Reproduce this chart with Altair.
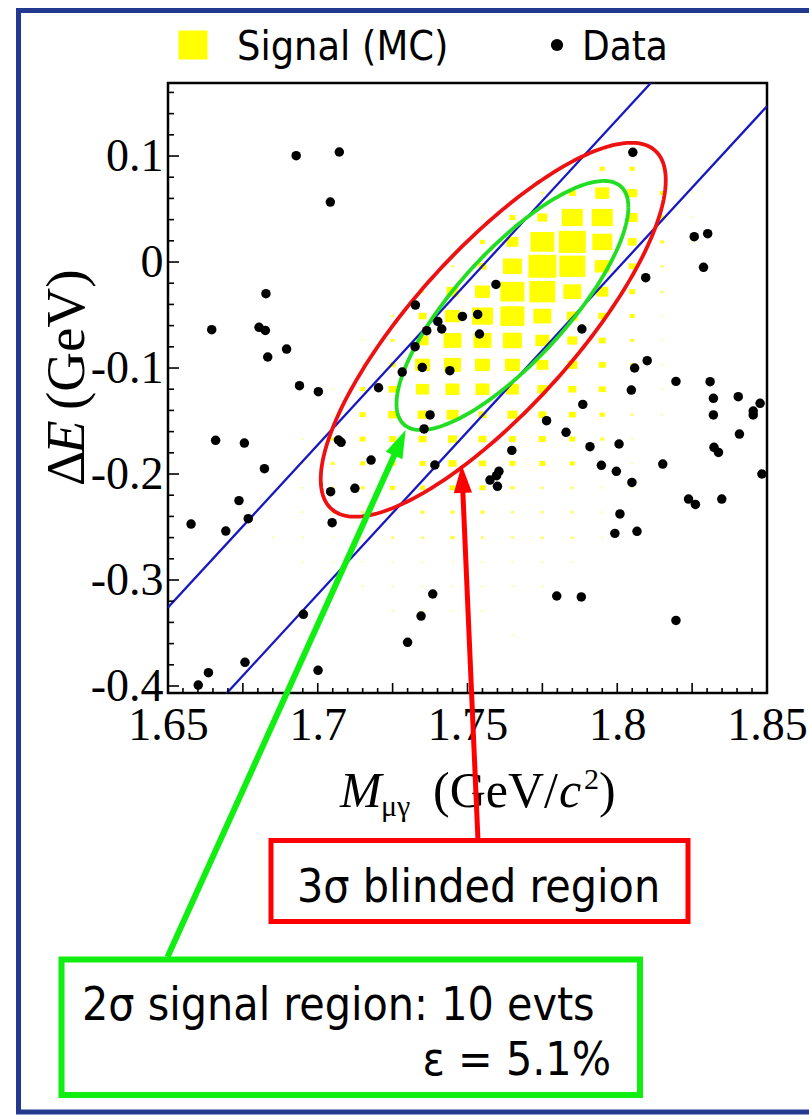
import altair as alt
import numpy as np
import pandas as pd

# ---------------- data ----------------
data_x = [1.6928, 1.7072, 1.7042, 1.6827, 1.6646, 1.6804, 1.6825, 1.6896, 1.6833, 1.7326,
          1.7483, 1.7534, 1.7401, 1.7414, 1.7364, 1.7540, 1.7325, 1.7349, 1.7441, 1.7282,
          1.7203, 1.6939, 1.7002, 1.8052, 1.8257, 1.8302, 1.8288, 1.8095, 1.7595, 1.7882,
          1.8100, 1.8058, 1.8047, 1.8196, 1.8310, 1.8321, 1.8404, 1.7375, 1.7355, 1.6659,
          1.6755, 1.7069, 1.7078, 1.7178, 1.6822, 1.7391, 1.6737, 1.7043, 1.7124, 1.6768,
          1.6577, 1.6693, 1.7048, 1.6952, 1.7384, 1.7345, 1.7300, 1.6757, 1.6635, 1.6601,
          1.7001, 1.8477, 1.8454, 1.8454, 1.8321, 1.8408, 1.8323, 1.8338, 1.8483, 1.7885,
          1.7764, 1.7829, 1.7648, 1.7909, 1.8006, 1.7947, 1.7997, 1.8049, 1.8152, 1.7605,
          1.7597, 1.7575, 1.7600, 1.8238, 1.8261, 1.8349, 1.8009, 1.7992, 1.8066, 1.7798,
          1.7880, 1.8196]
data_y = [0.1003, 0.1038, 0.0566, -0.0299, -0.0638, -0.0616, -0.0645, -0.0821, -0.0896, -0.0406,
          -0.0513, -0.0494, -0.0560, -0.0632, -0.0648, -0.0679, -0.0799, -0.0994, -0.1025, -0.1038,
          -0.1186, -0.1167, -0.1223, 0.1035, 0.0239, 0.0267, -0.0050, -0.0148, -0.0211, -0.0632,
          -0.0931, -0.1000, -0.1208, -0.1126, -0.1129, -0.1286, -0.1270, -0.1443, -0.1575, -0.1682,
          -0.1708, -0.1679, -0.1701, -0.1868, -0.1950, -0.1915, -0.2251, -0.2167, -0.2135, -0.2421,
          -0.2472, -0.2538, -0.2459, -0.3324, -0.3132, -0.3340, -0.3588, -0.3777, -0.3874, -0.3991,
          -0.3852, -0.1333, -0.1406, -0.1443, -0.1443, -0.1623, -0.1748, -0.1796, -0.2000, -0.1343,
          -0.1497, -0.1607, -0.1777, -0.1742, -0.1717, -0.1918, -0.1975, -0.2079, -0.1906, -0.1975,
          -0.2016, -0.2057, -0.2116, -0.2236, -0.2287, -0.2236, -0.2377, -0.2560, -0.2541, -0.3151,
          -0.3160, -0.3381]

# Signal MC: bin centres and relative box size per bin (rows = mc_y, cols = mc_x)
mc_x = [1.655, 1.665, 1.675, 1.685, 1.695, 1.705, 1.715, 1.725, 1.735, 1.745,
        1.755, 1.765, 1.775, 1.785, 1.795, 1.805, 1.815, 1.825, 1.835, 1.845]
mc_y = [0.088, 0.065, 0.042, 0.019, -0.004, -0.028, -0.051, -0.074, -0.097, -0.120, -0.144,
        -0.167, -0.190, -0.213, -0.236, -0.260, -0.283, -0.306, -0.329, -0.352, -0.376, -0.399]
mc_weight = [
    [0, 0, 0, 0, 0, 0, 0, 0, 0, 0, 0, 0, 1, 2, 5, 5, 2, 0, 0, 0],
    [0, 0, 0, 0, 0, 0, 0, 0, 0, 0, 0, 1, 3, 7, 14, 10, 5, 2, 0, 0],
    [0, 0, 0, 0, 0, 0, 0, 0, 0, 0, 2, 6, 10, 21, 21, 11, 5, 2, 0, 0],
    [0, 0, 0, 0, 0, 0, 0, 0, 0, 2, 5, 12, 24, 27, 20, 9, 4, 2, 0, 0],
    [0, 0, 0, 0, 0, 0, 0, 0, 1, 3, 8, 19, 28, 26, 15, 7, 3, 1, 0, 0],
    [0, 0, 0, 0, 0, 0, 0, 1, 3, 12, 15, 24, 26, 18, 12, 6, 3, 1, 0, 0],
    [0, 0, 0, 0, 0, 0, 1, 3, 8, 15, 21, 24, 18, 11, 8, 5, 2, 0, 0, 0],
    [0, 0, 0, 0, 0, 1, 2, 4, 12, 18, 18, 19, 14, 10, 7, 4, 2, 0, 0, 0],
    [0, 0, 0, 0, 1, 1, 2, 6, 15, 17, 15, 15, 12, 10, 7, 4, 2, 0, 0, 0],
    [0, 0, 0, 0, 1, 2, 5, 8, 13, 14, 14, 13, 10, 8, 7, 4, 2, 0, 0, 0],
    [0, 0, 0, 1, 1, 2, 6, 9, 10, 12, 8, 10, 8, 7, 5, 3, 2, 0, 0, 0],
    [0, 0, 0, 1, 2, 4, 6, 7, 8, 9, 8, 7, 7, 6, 4, 2, 1, 0, 0, 0],
    [0, 0, 1, 1, 2, 4, 5, 6, 6, 8, 7, 6, 6, 5, 3, 2, 1, 0, 0, 0],
    [0, 0, 1, 1, 2, 3, 4, 5, 5, 6, 6, 4, 3, 3, 2, 2, 1, 0, 0, 0],
    [0, 1, 1, 1, 2, 3, 3, 3, 4, 4, 4, 3, 3, 3, 2, 1, 0, 0, 0, 0],
    [0, 1, 1, 2, 2, 2, 2, 3, 3, 4, 3, 3, 3, 3, 2, 1, 0, 0, 0, 0],
    [0, 1, 1, 1, 2, 2, 2, 2, 2, 2, 2, 2, 2, 2, 1, 0, 0, 0, 0, 0],
    [0, 1, 1, 1, 1, 2, 2, 2, 2, 2, 2, 2, 2, 1, 1, 0, 0, 0, 0, 0],
    [0, 0, 1, 1, 1, 1, 1, 2, 2, 2, 2, 1, 1, 1, 0, 0, 0, 0, 0, 0],
    [0, 0, 0, 1, 1, 1, 1, 1, 1, 1, 1, 2, 1, 0, 0, 0, 0, 0, 0, 0],
    [0, 0, 0, 0, 1, 1, 1, 1, 1, 1, 1, 1, 0, 0, 0, 0, 0, 0, 0, 0],
    [0, 0, 0, 0, 0, 0, 1, 1, 1, 1, 1, 0, 0, 0, 0, 0, 0, 0, 0, 0],
]

# signal-region ellipses: centre, half extents, correlation
ell_3sigma = dict(cx=1.7586, cy=-0.0639, ax=0.0576, ay=0.1764, rho=0.80)
ell_2sigma = dict(cx=1.7650, cy=-0.0410, ax=0.0387, ay=0.1175, rho=0.79)

# blue band lines (end points at the x range ends)
band_x = [1.65, 1.85]
band_upper_y = [-0.326, 0.288]
band_lower_y = [-0.467, 0.147]

x_labels = [1.65, 1.7, 1.75, 1.8, 1.85]
y_labels = [0.1, 0, -0.1, -0.2, -0.3, -0.4]
x_major_ticks = [1.675, 1.7, 1.725, 1.75, 1.775, 1.8, 1.825]
x_minor_ticks = [round(1.65 + 0.005 * i, 3) for i in range(1, 40) if i % 5 != 0]
y_major_ticks = [-0.4, -0.3, -0.2, -0.1, 0.0, 0.1]
y_minor_ticks = [round(-0.4 + 0.02 * i, 2) for i in range(1, 29) if i % 5 != 0]

# ---------------- layout ----------------
W, H = 599, 610
OX, OY = 168, 83
XD = [1.65, 1.85]
YD = [-0.4066, 0.1689]


def X(px):
    return XD[0] + (px - OX) / W * (XD[1] - XD[0])


def Y(py):
    return YD[1] - (py - OY) / H * (YD[1] - YD[0])


SERIF = "Liberation Serif"
SANS = "DejaVu Sans Condensed, DejaVu Sans"

xs = alt.Scale(domain=XD, nice=False, zero=False)
ys = alt.Scale(domain=YD, nice=False, zero=False)
X_AX = alt.Axis(values=x_labels, format="~g", title=None, ticks=False, domain=False, grid=False,
                labelFont=SERIF, labelFontSize=46, labelColor="black", labelPadding=10,
                labelFlush=False, labelOverlap=False)
Y_AX = alt.Axis(values=y_labels, title=None, ticks=False, domain=False, grid=False,
                labelFont=SERIF, labelFontSize=46, labelColor="black", labelPadding=5,
                labelFlush=False, labelOverlap=False,
                labelExpr="datum.value == 0 ? '0' : (datum.value < 0 ? '-' : '') + format(abs(datum.value), '.1f')")


def ex(f="x"):
    return alt.X(f"{f}:Q", scale=xs, axis=X_AX)


def ey(f="y"):
    return alt.Y(f"{f}:Q", scale=ys, axis=Y_AX)


# MC boxes (bin aspect ratio)
mc_rows = []
for k, yv in enumerate(mc_y):
    for i, xv in enumerate(mc_x):
        w = mc_weight[k][i]
        if w > 0:
            mc_rows.append({"x": xv, "y": yv, "w": w})
mc_df = pd.DataFrame(mc_rows)

mc_layer = alt.Chart(mc_df).mark_point(
    shape="M-1,-0.82L1,-0.82L1,0.82L-1,0.82Z", color="#FFFF00", filled=True, strokeWidth=0).encode(
    x=ex(), y=ey(),
    size=alt.Size("w:Q", scale=alt.Scale(type="pow", exponent=2, domain=[0, 28], range=[0, 784]), legend=None),
    opacity=alt.Opacity("w:Q", scale=alt.Scale(domain=[1, 5], range=[0.3, 1], clamp=True), legend=None),
)

# blue band lines
band_df = pd.DataFrame({
    "x": band_x + band_x,
    "y": band_upper_y + band_lower_y,
    "line": ["upper", "upper", "lower", "lower"],
})
band_layer = alt.Chart(band_df).mark_line(color="#1818C0", strokeWidth=2.3, clip=True).encode(
    x=ex(), y=ey(), detail="line:N")


def ellipse(p, name):
    t = np.linspace(0, 2 * np.pi, 241)
    phi = np.arccos(p["rho"])
    return pd.DataFrame({"x": p["cx"] + p["ax"] * np.cos(t),
                         "y": p["cy"] + p["ay"] * np.cos(t - phi),
                         "idx": np.arange(len(t)), "ring": name})


ell_df = pd.concat([ellipse(ell_3sigma, "3sigma"), ellipse(ell_2sigma, "2sigma")])
ell_layer = alt.Chart(ell_df).mark_line(strokeWidth=3.8, clip=True).encode(
    x=ex(), y=ey(),
    color=alt.Color("ring:N", scale=alt.Scale(domain=["3sigma", "2sigma"], range=["#EE1111", "#22DD22"]), legend=None),
    order="idx:Q", detail="ring:N")

pts_layer = alt.Chart(pd.DataFrame({"x": data_x, "y": data_y})).mark_circle(
    color="black", size=90, opacity=1).encode(x=ex(), y=ey())


# inward ticks
def xticks(vals, length):
    return alt.Chart(pd.DataFrame({"x": vals})).mark_rule(color="black", strokeWidth=1.6).encode(
        x=ex(), y=alt.value(H), y2=alt.value(H - length))


def yticks(vals, length):
    return alt.Chart(pd.DataFrame({"y": vals})).mark_rule(color="black", strokeWidth=1.6).encode(
        y=ey(), x=alt.value(0), x2=alt.value(length))


tick_layers = [xticks(x_minor_ticks, 5), xticks(x_major_ticks, 10),
               yticks(y_minor_ticks, 6), yticks(y_major_ticks, 11)]


# ---------------- annotations ----------------
def txt(text, px, py, size, font=SANS, style="normal", align="left", angle=0, baseline="alphabetic"):
    return alt.Chart(pd.DataFrame({"x": [X(px)], "y": [Y(py)], "t": [text]})).mark_text(
        font=font, fontSize=size, fontStyle=style, align=align, baseline=baseline, angle=angle,
        color="black").encode(x=ex(), y=ey(), text="t:N")


def rect(x1, y1, x2, y2, color, width):
    return alt.Chart(pd.DataFrame({"x": [X(x1)], "x2": [X(x2)], "y": [Y(y1)], "y2": [Y(y2)]})).mark_rect(
        fill="white", fillOpacity=0, stroke=color, strokeWidth=width).encode(
        x=ex(), x2="x2:Q", y=ey(), y2="y2:Q")


def seg(x1, y1, x2, y2, color, width):
    return alt.Chart(pd.DataFrame({"x": [X(x1)], "x2": [X(x2)], "y": [Y(y1)], "y2": [Y(y2)]})).mark_rule(
        color=color, strokeWidth=width).encode(x=ex(), x2="x2:Q", y=ey(), y2="y2:Q")


def head(px, py, angle, color):
    return alt.Chart(pd.DataFrame({"x": [X(px)], "y": [Y(py)]})).mark_point(
        shape="M0,-1L0.65,1L-0.65,1Z", filled=True, size=784, angle=angle, color=color, opacity=1,
        strokeWidth=0).encode(x=ex(), y=ey())


def sym(px, py, shape, size, color):
    return alt.Chart(pd.DataFrame({"x": [X(px)], "y": [Y(py)]})).mark_point(
        shape=shape, filled=True, size=size, color=color, opacity=1, strokeWidth=0).encode(x=ex(), y=ey())


GREEN = "#11EE11"
RED = "#FF0000"
TX = 84  # baseline of the rotated y title
annot = [
    rect(18.5, 10.5, 900, 1112, "#22398F", 5),
    # legend
    sym(193, 45, "square", 841, "#FFFF00"),
    txt("Signal (MC)", 237, 60, 41),
    sym(557, 45, "circle", 150, "black"),
    txt("Data", 582, 60, 40),
    # axis titles
    txt("M", 340, 807, 50, SERIF, "italic"),
    txt("μγ", 381, 816, 30, SERIF),
    txt("(GeV/", 433, 807, 50, SERIF),
    txt("c", 559, 807, 50, SERIF, "italic"),
    txt("2", 584, 789, 30, SERIF),
    txt(")", 599, 807, 50, SERIF),
    txt("Δ", TX, 486, 55, SERIF, angle=270),
    txt("E", TX, 454, 55, SERIF, "italic", angle=270),
    txt("(GeV)", TX, 410, 55, SERIF, angle=270),
    # boxes and arrows
    rect(271, 840.5, 688, 921.5, RED, 5),
    rect(61.5, 959.5, 640, 1095, GREEN, 6),
    seg(478, 840.5, 462.3, 479, RED, 5),
    head(462.3, 479, 357.56, RED),
    seg(167.5, 957, 399.9, 442.8, GREEN, 6),
    head(399.9, 442.8, 24.3, GREEN),
    txt("3σ blinded region", 297, 902, 46),
    txt("2σ signal region: 10 evts", 82, 1020, 46),
    txt("ε = 5.1%", 611, 1075, 46, align="right"),
]

chart = alt.layer(mc_layer, band_layer, ell_layer, pts_layer, *tick_layers, *annot).properties(
    width=W, height=H,
    autosize=alt.AutoSizeParams(type="none"),
    padding={"left": OX, "top": OY, "right": 809 - OX - W, "bottom": 1115 - OY - H},
    background="white",
).configure_view(stroke="black", strokeWidth=2.5, fill="white")

chart.save("out.html", embed_options={"renderer": "svg", "actions": False})
